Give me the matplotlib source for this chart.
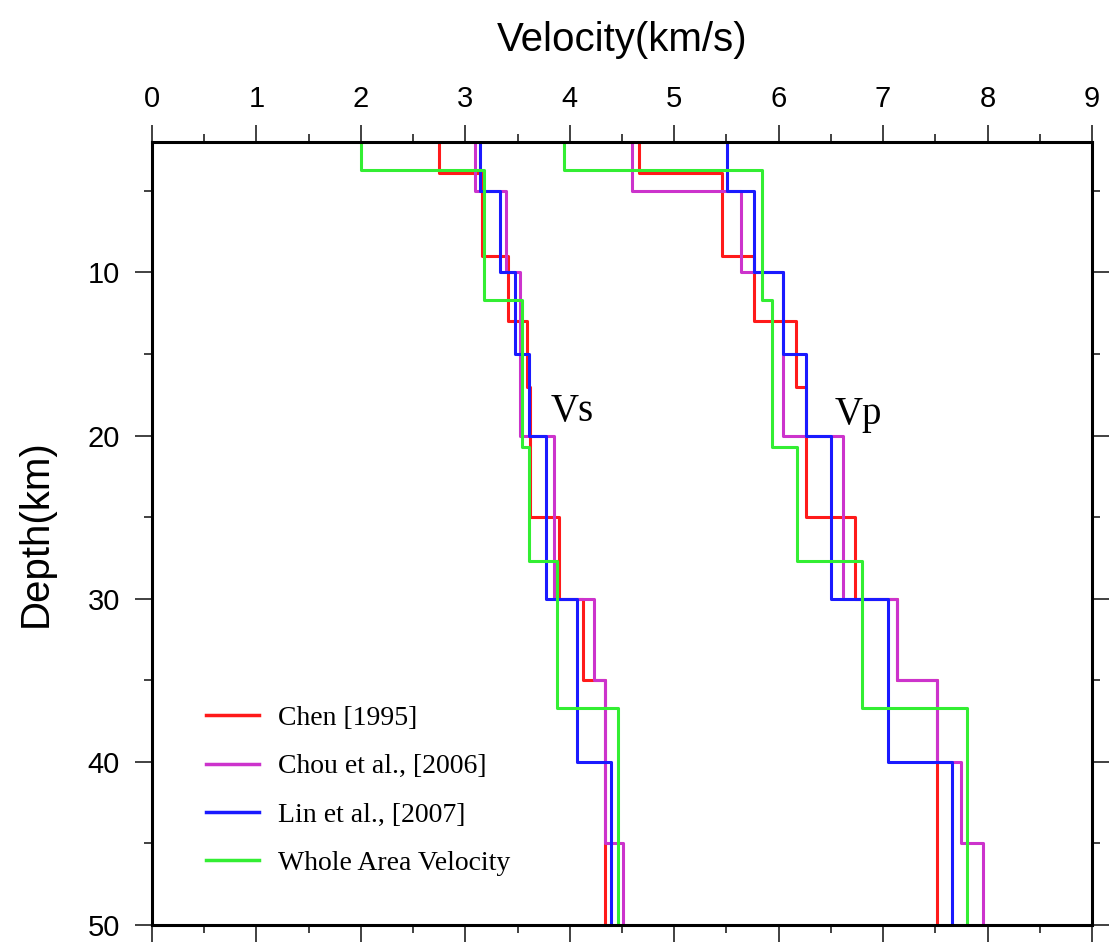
import numpy as np
import matplotlib
matplotlib.use("Agg")
import matplotlib.pyplot as plt
from matplotlib.ticker import MultipleLocator

# layer bottoms (km) and velocities (km/s) for each model
chen_bottom = [3.9, 9, 13, 17, 25, 30, 35, 50]
chen_vs = [2.75, 3.16, 3.41, 3.59, 3.62, 3.90, 4.13, 4.34]
chen_vp = [4.66, 5.46, 5.76, 6.17, 6.26, 6.73, 7.13, 7.52]

chou_bottom = [5, 10, 20, 30, 35, 40, 45, 50]
chou_vs = [3.09, 3.39, 3.52, 3.85, 4.23, 4.34, 4.34, 4.51]
chou_vp = [4.60, 5.64, 6.04, 6.62, 7.13, 7.52, 7.75, 7.96]

lin_bottom = [5, 10, 15, 20, 30, 40, 50]
lin_vs = [3.14, 3.33, 3.48, 3.61, 3.77, 4.07, 4.39]
lin_vp = [5.51, 5.76, 6.04, 6.26, 6.50, 7.05, 7.66]

whole_bottom = [3.7, 11.7, 20.7, 27.7, 36.7, 50]
whole_vs = [2.00, 3.18, 3.54, 3.61, 3.88, 4.46]
whole_vp = [3.94, 5.84, 5.94, 6.18, 6.80, 7.80]

labels = ["Chen [1995]", "Chou et al., [2006]", "Lin et al., [2007]", "Whole Area Velocity"]
colors = ["#ff1a1a", "#cc33cc", "#1a1aff", "#33ee33"]


def staircase(bottoms, vel):
    # turn layer list into a depth/velocity step profile
    tops = [0] + list(bottoms[:-1])
    d = np.ravel(np.column_stack([tops, bottoms]))
    v = np.repeat(vel, 2)
    return v, d


sans = "Liberation Sans"
serif = "Liberation Serif"

fig = plt.figure(figsize=(11.12, 9.44), dpi=100)
ax = fig.add_axes([0.1367, 0.0201, 0.8453, 0.8295])

models = [
    (chen_bottom, chen_vs, chen_vp),
    (chou_bottom, chou_vs, chou_vp),
    (lin_bottom, lin_vs, lin_vp),
    (whole_bottom, whole_vs, whole_vp),
]
for (bot, vs, vp), lab, col in zip(models, labels, colors):
    x, y = staircase(bot, vs)
    ax.plot(x, y, color=col, lw=2.2, label=lab)
    x, y = staircase(bot, vp)
    ax.plot(x, y, color=col, lw=2.2)

ax.set_xlim(0, 9)
ax.set_ylim(50, 2)

ax.xaxis.set_major_locator(MultipleLocator(1))
ax.xaxis.set_minor_locator(MultipleLocator(0.5))
ax.yaxis.set_major_locator(MultipleLocator(10))
ax.yaxis.set_minor_locator(MultipleLocator(5))
ax.set_yticks([10, 20, 30, 40, 50])

ax.tick_params(which="both", direction="out", top=True, bottom=True, left=True, right=True,
               labeltop=True, labelbottom=False, labelleft=True, labelright=False,
               width=1.3, color="#333333")
ax.tick_params(which="major", length=12)
ax.tick_params(which="minor", length=6)
ax.tick_params(axis="x", pad=9)
ax.tick_params(axis="y", pad=11)
for t in ax.get_xticklabels() + ax.get_yticklabels():
    t.set_fontfamily(sans)
    t.set_fontsize(21)

for s in ax.spines.values():
    s.set_linewidth(2.2)
    s.set_color("black")

ax.xaxis.set_label_position("top")
ax.set_xlabel("Velocity(km/s)", fontfamily=sans, fontsize=29, labelpad=24)
ax.set_ylabel("Depth(km)", fontfamily=sans, fontsize=29, labelpad=24)

ax.text(4.02, 18.5, "Vs", fontfamily=serif, fontsize=28, ha="center", va="center")
ax.text(6.76, 18.7, "Vp", fontfamily=serif, fontsize=28, ha="center", va="center")

leg = ax.legend(loc="upper left", bbox_to_anchor=(0.031, 0.312), frameon=False,
                prop={"family": serif, "size": 20}, handlelength=1.9,
                handletextpad=0.7, labelspacing=0.82)
for h in leg.get_lines():
    h.set_linewidth(2.5)

fig.savefig("out.png", dpi=100, facecolor="white")
